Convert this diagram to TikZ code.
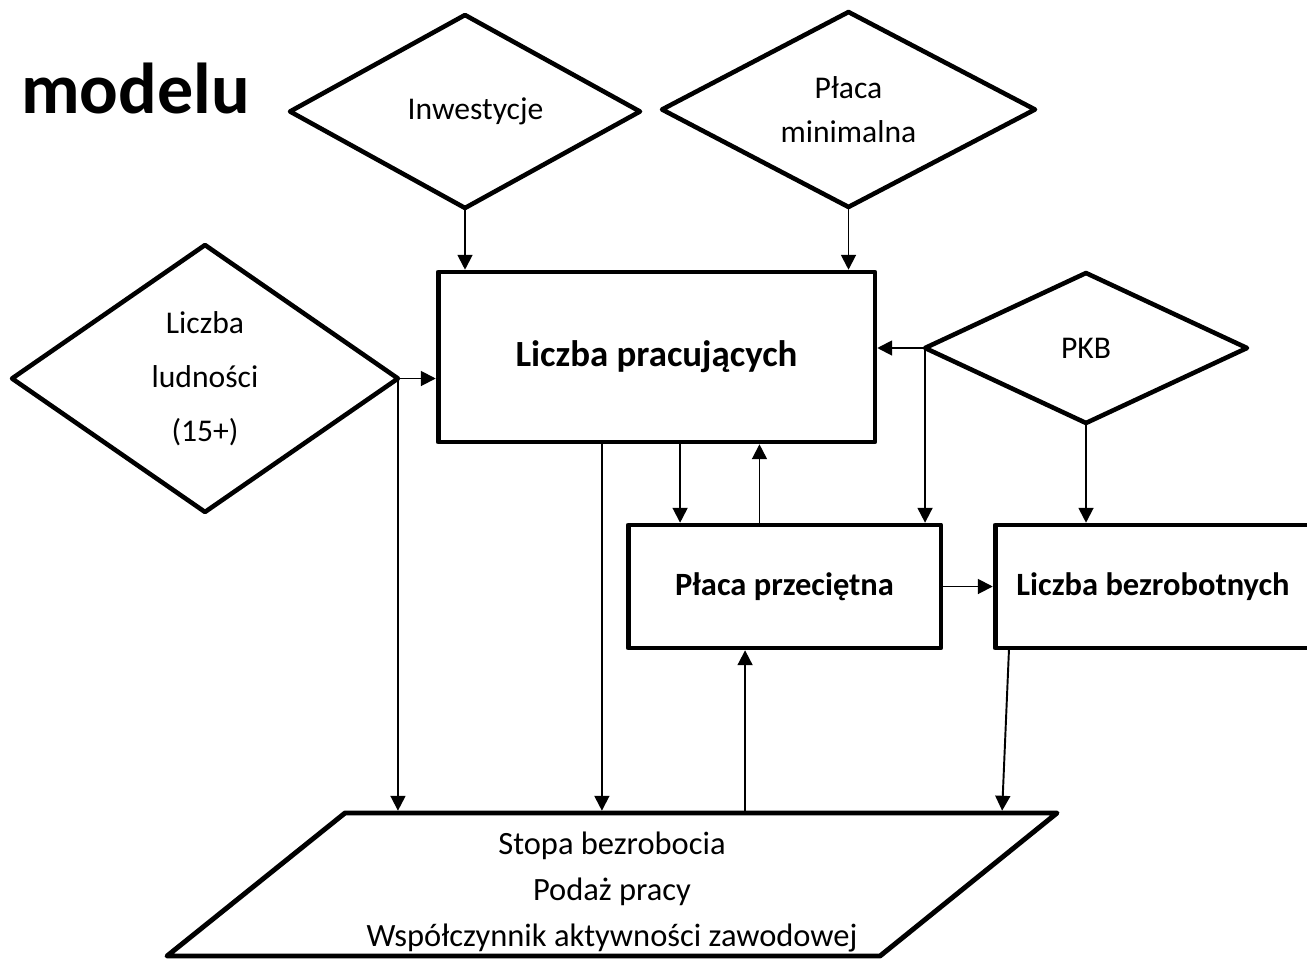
\documentclass[tikz,border=0pt]{standalone}
\usepackage{fontspec}
\setmainfont{Carlito}
\usetikzlibrary{shapes.geometric,arrows.meta,calc}
\begin{document}
\begin{tikzpicture}[x=0.02cm, y=-0.02cm,
    box/.style = {draw, rectangle, line width=2.8pt, line join=round, inner sep=0pt, outer sep=0pt, font=\fontsize{18.5}{24}\selectfont\bfseries},
    dia/.style = {draw, diamond, line width=2.6pt, line join=round, inner sep=0pt, outer sep=0pt, align=center, font=\fontsize{18}{25}\selectfont},
    arr/.style = {line width=1.1pt, shorten >=1.3pt, -{Triangle[length=8.5pt,width=8.5pt]}}]
    \useasboundingbox (0,0) rectangle (1307,963);
    \node[anchor=base west, font=\fontsize{41}{48}\selectfont\bfseries] (tyt) at (15,113) {modelu};
    % wejscia
    \node[dia, aspect=1.8, minimum width=7cm, minimum height=3.86cm] (inw) at (465,111.5) {\hspace*{12pt}Inwestycje};
    \node[dia, aspect=1.9, minimum width=7.46cm, minimum height=3.9cm] (plmin) at (848.5,109.5) {Płaca\\minimalna};
    \node[dia, aspect=1.45, minimum width=7.72cm, minimum height=5.34cm, font=\fontsize{18}{30.6}\selectfont] (lud) at (205,378.5) {Liczba\\ludności\\(15+)};
    \node[dia, aspect=2.1, minimum width=6.44cm, minimum height=3cm] (pkb) at (1086,348) {PKB};
    % bloki
    \node[box, minimum width=8.74cm, minimum height=3.4cm, font=\fontsize{21}{26}\selectfont\bfseries] (prac) at (656.5,357) {Liczba pracujących};
    \node[box, minimum width=6.26cm, minimum height=2.46cm] (plac) at (784.5,586.5) {Płaca przeciętna};
    \node[box, minimum width=6.32cm, minimum height=2.46cm] (bezr) at (1153,586.5) {Liczba bezrobotnych};
    \node[align=center, font=\fontsize{18.5}{26}\selectfont] (stopa) at (612,892)
        {Stopa bezrobocia\\Podaż pracy\\Współczynnik aktywności zawodowej};
    \draw[line width=2.8pt, line join=round] ($(stopa)+(-445,64)$) -- ($(stopa)+(-267,-79)$)
        -- ($(stopa)+(445,-79)$) -- ($(stopa)+(268,64)$) -- cycle;
    % punkty
    \coordinate (stopatop) at ($(stopa)+(0,-79)$);
    \coordinate (p1) at ($(prac.south west)!0.375!(prac.south east)$);
    \coordinate (p2) at ($(prac.south west)!0.554!(prac.south east)$);
    \coordinate (p3) at ($(plac.north west)!0.42!(plac.north east)$);
    \coordinate (p4) at ($(plac.south west)!0.374!(plac.south east)$);
    \coordinate (b1) at ($(bezr.south west)+(14,0)$);
    \coordinate (b2) at ($(b1 |- stopatop)+(-7,0)$);
    % strzalki
    \draw[arr] (inw.south) -- (inw.south |- prac.north);
    \draw[arr] (plmin.south) -- (plmin.south |- prac.north);
    \draw[arr] (lud.east) -- (lud.east -| prac.west);
    \draw[arr] (lud.east) -- (lud.east |- stopatop);
    \draw[arr] (p1) -- (p1 |- stopatop);
    \draw[arr] (p2) -- (p2 |- plac.north);
    \draw[arr] (p3) -- (p3 |- prac.south);
    \draw[arr] (pkb.west) -- (pkb.west -| prac.east);
    \draw[arr] (pkb.west) -- (pkb.west |- plac.north);
    \draw[arr] (pkb.south) -- (pkb.south |- bezr.north);
    \draw[arr] (plac.east) -- (bezr.west);
    \draw[arr] (p4 |- stopatop) -- (p4);
    \draw[arr] (b1) -- (b2);
\end{tikzpicture}
\end{document}
